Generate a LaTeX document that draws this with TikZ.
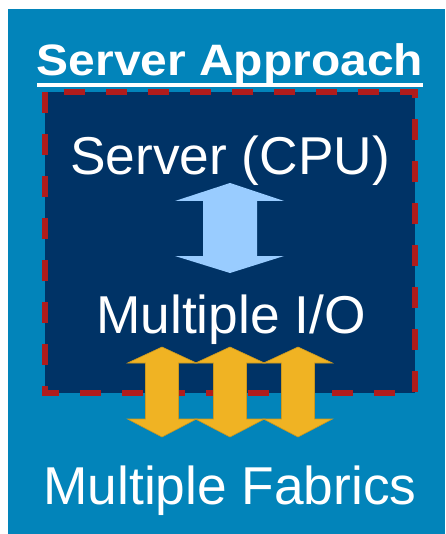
\documentclass[tikz,border=0pt]{standalone}
\usepackage{fontspec}
\setmainfont{Liberation Sans}
\definecolor{bgblue}{HTML}{0284BA}
\definecolor{boxblue}{HTML}{003366}
\definecolor{lightarrow}{HTML}{99CCFF}
\definecolor{goldarrow}{HTML}{F0B323}
\definecolor{dashred}{HTML}{B01C1C}
\begin{document}
\begin{tikzpicture}[x=1pt,y=-1pt,
  label/.style={text=white,inner sep=0pt,anchor=base,font=\fontsize{53.3}{60}\selectfont},
  titlelabel/.style={text=white,inner sep=0pt,anchor=base,font=\fontsize{44}{50}\selectfont\bfseries},
  serverbox/.style={fill=boxblue,draw=dashred,line width=6pt,dash pattern=on 21pt off 21pt},
  goldshape/.style={fill=goldarrow,draw=goldarrow!85!black,line width=0.6pt},
  lightshape/.style={fill=lightarrow}]
\useasboundingbox (0,0) rectangle (445,534);
\fill[white] (0,0) rectangle (445,534);
\fill[bgblue] (8,9) rectangle (445,534);
% title
\node[titlelabel,xscale=1.09,transform shape] (title) at (230,76) {Server Approach};
\fill[white] (37,83) rectangle (423,87);
% server box
\draw[serverbox] (45,92) rectangle (415,393);
\node[label] (cpu) at (230,175) {Server (CPU)};
\node[label] (io) at (231,333) {Multiple I/O};
% light blue double arrow
\fill[lightshape] (230,183) -- (284,201) -- (257,201) -- (257,256) -- (284,256)
  -- (230,273) -- (175,256) -- (203,256) -- (203,201) -- (175,201) -- cycle;
% gold double arrows
\foreach \cx in {162,230,298}{
  \filldraw[goldshape] (\cx,347) -- (\cx+34.5,363) -- (\cx+16.5,363) -- (\cx+16.5,419) -- (\cx+34.5,419)
    -- (\cx,437) -- (\cx-34.5,419) -- (\cx-16.5,419) -- (\cx-16.5,363) -- (\cx-34.5,363) -- cycle;
}
\node[label] (fabrics) at (230,504) {Multiple Fabrics};
\end{tikzpicture}
\end{document}
